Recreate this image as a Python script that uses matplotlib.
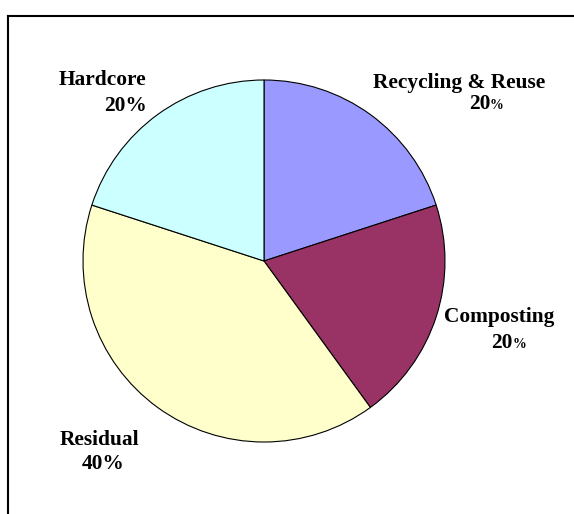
import matplotlib
matplotlib.use("Agg")
import matplotlib.pyplot as plt

labels = ["Recycling & Reuse", "Composting", "Residual", "Hardcore"]
values = [20, 20, 40, 20]
pct_text = ["20", "20", "40", "20"]
small_pct = [True, True, False, False]   # some labels show a smaller % sign
colors = ["#9999FF", "#993366", "#FFFFCC", "#CCFFFF"]

W, H = 574, 514
cx, cy, r = 264, 261, 181

# label centres in pixels (name line, percent line)
name_px = [(459, 83), (499, 317), (99, 440), (102, 80)]
pct_px = [(485, 104), (508, 343), (103, 464), (126, 106)]


def to_data(p):
    return (p[0] - cx) / r, (cy - p[1]) / r


fig = plt.figure(figsize=(W / 100, H / 100), dpi=100)
ax = fig.add_axes([(cx - r) / W, (H - cy - r) / H, 2 * r / W, 2 * r / H])
ax.pie(values, colors=colors, startangle=90, counterclock=False,
       wedgeprops=dict(edgecolor="black", linewidth=0.8))
ax.set_xlim(-1, 1)
ax.set_ylim(-1, 1)
ax.set_aspect("equal")
ax.axis("off")

font = dict(fontweight="bold", family="Liberation Serif", clip_on=False)
fs = 15.4
for lab, num, small, npx, ppx in zip(labels, pct_text, small_pct, name_px, pct_px):
    x, y = to_data(npx)
    ax.text(x, y, lab, ha="center", va="center", fontsize=fs, **font)
    x, y = to_data(ppx)
    if small:
        # number and a smaller % sign, split around the centre
        xs = x + 5 / r
        ax.text(xs, y, num, ha="right", va="center", fontsize=fs, **font)
        ax.text(xs, y - 1.5 / r, "%", ha="left", va="center", fontsize=10, **font)
    else:
        ax.text(x, y, num + "%", ha="center", va="center", fontsize=fs, **font)

# outer frame (clipped at the right and bottom edges)
fig.add_artist(plt.Line2D([8 / W, 1.0], [1 - 16 / H, 1 - 16 / H], color="black", linewidth=1.5))
fig.add_artist(plt.Line2D([8 / W, 8 / W], [0.0, 1 - 16 / H], color="black", linewidth=1.5))

fig.savefig("out.png", dpi=100)
